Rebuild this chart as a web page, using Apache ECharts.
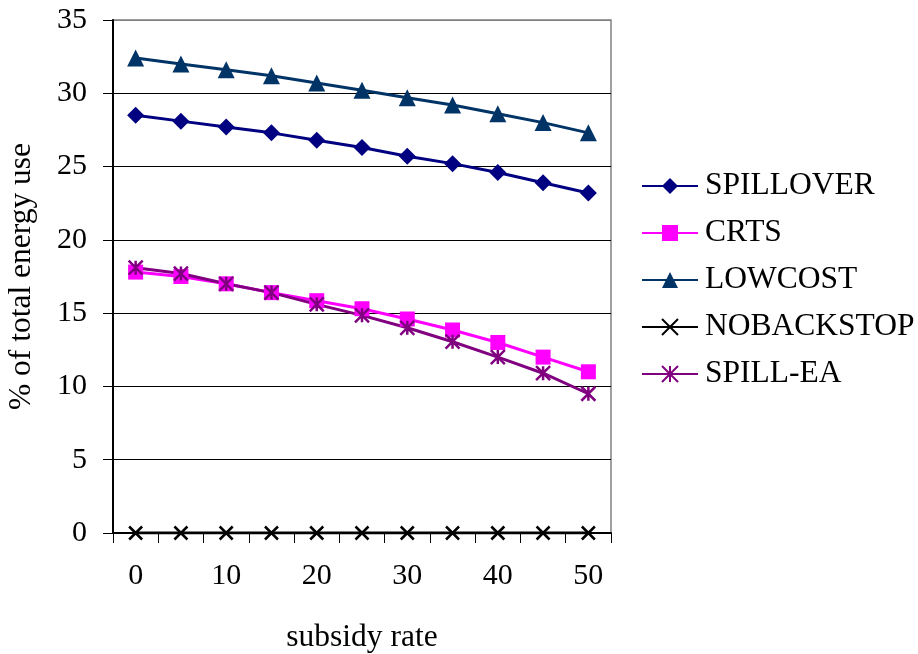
<!DOCTYPE html>
<html>
<head>
<meta charset="utf-8">
<script src="https://cdn.jsdelivr.net/npm/echarts@6/dist/echarts.min.js"></script>
<style>
html,body{margin:0;padding:0;background:#fff;}
#chart{width:918px;height:654px;}
</style>
</head>
<body>
<div id="chart"></div>
<script>
const categories = ['0','5','10','15','20','25','30','35','40','45','50'];
const spillover = [28.5, 28.1, 27.7, 27.3, 26.8, 26.3, 25.7, 25.2, 24.6, 23.9, 23.2];
const crts = [17.8, 17.5, 17.0, 16.4, 15.85, 15.3, 14.6, 13.85, 13.0, 12.0, 11.0];
const lowcost = [32.4, 32.0, 31.6, 31.2, 30.7, 30.2, 29.7, 29.2, 28.6, 28.0, 27.3];
const nobackstop = [0, 0, 0, 0, 0, 0, 0, 0, 0, 0, 0];
const spillEA = [18.1, 17.7, 17.0, 16.4, 15.6, 14.85, 14.0, 13.05, 12.0, 10.9, 9.5];

const FONT = "'Liberation Serif', 'Times New Roman', serif";
const xPath = 'path://M0,0L10,10M10,0L0,10';
const starPath = 'path://M0,0L10,10M10,0L0,10M5,0L5,10';

function lineSeries(name, data, color, symbol, size, extra) {
  return Object.assign({
    name: name,
    type: 'line',
    data: data,
    symbol: symbol,
    symbolSize: size,
    symbolKeepAspect: true,
    showAllSymbol: true,
    animation: false,
    lineStyle: { color: color, width: 3 },
    itemStyle: { color: color }
  }, extra || {});
}

const chart = echarts.init(document.getElementById('chart'));
chart.setOption({
  backgroundColor: '#fff',
  animation: false,
  textStyle: { fontFamily: FONT },
  grid: {
    left: 113, right: 307, top: 20, bottom: 121,
    outerBoundsMode: 'none', containLabel: false,
    show: true, borderColor: '#808080', borderWidth: 1.5, backgroundColor: '#fff'
  },
  legend: {
    orient: 'vertical',
    left: 636, top: 165,
    itemWidth: 56, itemHeight: 20, itemGap: 15,
    textStyle: { fontFamily: FONT, fontSize: 31.5, color: '#000', padding: [0,0,0,2] },
    data: ['SPILLOVER','CRTS','LOWCOST','NOBACKSTOP','SPILL-EA']
  },
  xAxis: {
    type: 'category',
    data: categories,
    boundaryGap: true,
    name: 'subsidy rate',
    nameLocation: 'middle',
    nameGap: 89,
    nameTextStyle: { fontFamily: FONT, fontSize: 31.5, color: '#000' },
    axisLine: { lineStyle: { color: '#000', width: 2 } },
    axisTick: { show: true, interval: 0, length: 10, lineStyle: { color: '#000', width: 1 } },
    axisLabel: { interval: 1, fontFamily: FONT, fontSize: 30, color: '#000', margin: 28 },
    splitLine: { show: false }
  },
  yAxis: {
    type: 'value',
    min: 0, max: 35, interval: 5,
    name: '% of total energy use',
    nameLocation: 'middle',
    nameGap: 75,
    nameTextStyle: { fontFamily: FONT, fontSize: 31.5, color: '#000' },
    axisLine: { show: true, lineStyle: { color: '#000', width: 2 } },
    axisTick: { show: true, length: 10, lineStyle: { color: '#000', width: 1 } },
    axisLabel: { fontFamily: FONT, fontSize: 30, color: '#000', margin: 26 },
    splitLine: { show: true, lineStyle: { color: ['#000','#000','#000','#000','#000','#000','#000','#808080'], width: 1 } }
  },
  series: [
    lineSeries('SPILLOVER', spillover, '#000080', 'diamond', 17),
    lineSeries('CRTS', crts, '#FF00FF', 'rect', 15),
    lineSeries('LOWCOST', lowcost, '#003366', 'triangle', 17),
    lineSeries('NOBACKSTOP', nobackstop, '#000000', xPath, 13, {
      itemStyle: { color: '#000', borderColor: '#000', borderWidth: 2.5 }
    }),
    lineSeries('SPILL-EA', spillEA, '#800080', starPath, 14, {
      itemStyle: { color: '#800080', borderColor: '#800080', borderWidth: 2.5 }
    })
  ]
});
</script>
</body>
</html>
